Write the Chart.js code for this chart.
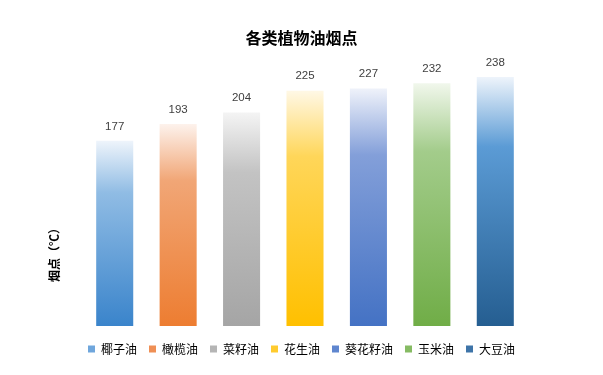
<!DOCTYPE html>
<html>
<head>
<meta charset="utf-8">
<script src="https://cdn.jsdelivr.net/npm/chart.js@4"></script>
<style>
  html, body { margin: 0; padding: 0; background: #fff; }
  #wrap { width: 603px; height: 375px; position: relative; }
</style>
</head>
<body>
<div id="wrap"><canvas id="oilChart"></canvas></div>
<script>
"use strict";

// data
const oils = ['椰子油', '橄榄油', '菜籽油', '花生油', '葵花籽油', '玉米油', '大豆油'];
const smokePoints = [177, 193, 204, 225, 227, 232, 238];
const yTicks = [0, 250];

// palette: pale top, light band, dark bottom
const topColors = ['#eef4fb', '#fdf2ec', '#f4f4f4', '#fff8e6', '#eff2fa', '#f1f7ec', '#eef4fb'];
const midColors = ['#90bce4', '#f1a676', '#c3c3c3', '#ffd659', '#839fd9', '#a3cc8b', '#5b9bd5'];
const lowColors = ['#3a84cb', '#ed7d31', '#a5a5a5', '#ffc000', '#4472c4', '#70ad47', '#255e91'];
const keyColors = ['#6fa6dc', '#ef8f55', '#b5b5b5', '#ffcb2e', '#5f86cf', '#86bb63', '#3e74a8'];

const ctx = document.getElementById('oilChart').getContext('2d');

let barFill = function (c) {
  const chart = c.chart;
  const i = c.dataIndex;
  if (!chart.chartArea || i === undefined) return lowColors[i] || '#999';
  const y = chart.scales.y;
  const top = y.getPixelForValue(smokePoints[i]);
  const bottom = y.getPixelForValue(0);
  const g = chart.ctx.createLinearGradient(0, top, 0, bottom);
  g.addColorStop(0, topColors[i]);
  g.addColorStop(0.28, midColors[i]);
  g.addColorStop(1, lowColors[i]);
  return g;
};

// value labels above bars
const valueLabels = {
  id: 'valueLabels',
  afterDatasetsDraw(chart) {
    const c = chart.ctx;
    const meta = chart.getDatasetMeta(0);
    c.save();
    c.font = '11.5px "Liberation Sans", "Noto Sans", sans-serif';
    c.fillStyle = '#404040';
    c.textAlign = 'center';
    c.textBaseline = 'middle';
    meta.data.forEach(function (bar, i) {
      c.fillText(String(smokePoints[i]), bar.x, bar.y - 14.5);
    });
    c.restore();
  }
};

// rotated y axis caption
const yCaption = {
  id: 'yCaption',
  afterDraw(chart) {
    const c = chart.ctx;
    const a = chart.chartArea;
    c.save();
    c.translate(a.left - 28.5, a.bottom - 74);
    c.rotate(-Math.PI / 2);
    c.font = 'bold 12px "Noto Sans CJK SC", sans-serif';
    c.fillStyle = '#000';
    c.textAlign = 'center';
    c.textBaseline = 'middle';
    c.fillText('烟点（℃）', 0, 0);
    c.restore();
  }
};

const hiddenAxis = {
  display: true,
  ticks: { display: false },
  grid: { display: false },
  border: { display: false }
};

let config = {
  type: 'bar',
  data: {
    labels: oils,
    datasets: [{
      label: '烟点',
      data: smokePoints,
      backgroundColor: barFill,
      borderWidth: 0,
      categoryPercentage: 1,
      barPercentage: 0.584
    }]
  },
  options: {
    responsive: true,
    maintainAspectRatio: false,
    animation: false,
    layout: { padding: { top: 0, bottom: 10, left: 0, right: 0 } },
    scales: {
      x: {
        display: true,
        ticks: { display: false },
        grid: { display: false, drawTicks: true, tickLength: 5 },
        border: { display: false }
      },
      y: Object.assign({}, hiddenAxis, {
        position: 'left',
        min: yTicks[0],
        max: yTicks[1],
        afterFit: function (s) { s.width = 83; }
      }),
      y2: Object.assign({}, hiddenAxis, {
        position: 'right',
        min: yTicks[0],
        max: yTicks[1],
        afterFit: function (s) { s.width = 76; }
      })
    },
    plugins: {
      title: {
        display: true,
        text: '各类植物油烟点',
        color: '#000',
        font: { family: '"Noto Sans CJK SC", sans-serif', size: 16, weight: 'bold', lineHeight: 1.2 },
        padding: { top: 28.4, bottom: 16.9 }
      },
      legend: {
        display: true,
        position: 'bottom',
        labels: {
          boxWidth: 7,
          boxHeight: 7,
          padding: 12,
          color: '#404040',
          font: { family: '"Noto Sans CJK SC", sans-serif', size: 12 },
          generateLabels: function () {
            return oils.map(function (name, i) {
              return {
                text: name,
                fillStyle: keyColors[i],
                strokeStyle: keyColors[i],
                lineWidth: 0,
                hidden: false,
                index: i,
                datasetIndex: 0
              };
            });
          }
        },
        onClick: function () {}
      },
      tooltip: { enabled: false }
    }
  },
  plugins: [valueLabels, yCaption]
};

const oilChart = new Chart(ctx, config);
</script>
</body>
</html>
